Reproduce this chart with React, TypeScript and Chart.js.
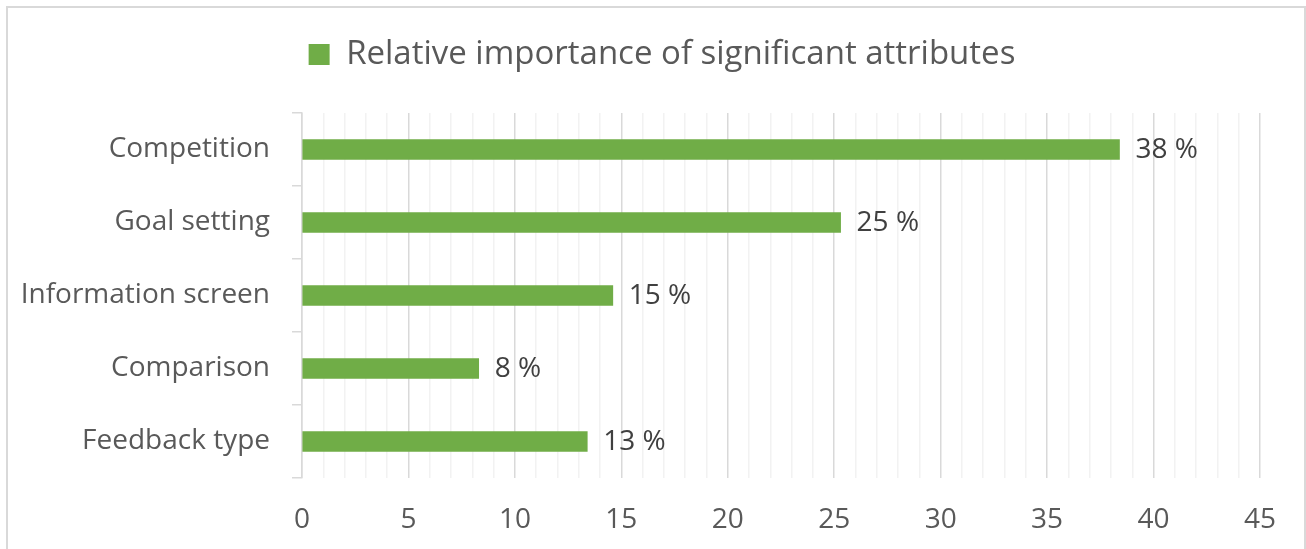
import React, { useEffect, useRef } from "react";
import { Chart, registerables } from "chart.js";

Chart.register(...registerables);

const categories = ["Competition", "Goal setting", "Information screen", "Comparison", "Feedback type"];
const values = [38.4, 25.3, 14.6, 8.3, 13.4];
const valueLabels = ["38 %", "25 %", "15 %", "8 %", "13 %"];
const seriesName = "Relative importance of significant attributes";
const xMin = 0;
const xMax = 45;

const FONT = "'Open Sans', sans-serif";
const TEXT = "#595959";
const GREEN = "#70AD47";

const dataLabelPlugin = {
  id: "dataLabels",
  afterDatasetsDraw(chart: any) {
    const ctx = chart.ctx;
    const meta = chart.getDatasetMeta(0);
    ctx.save();
    ctx.font = `28px ${FONT}`;
    ctx.fillStyle = "#404040";
    ctx.textAlign = "left";
    ctx.textBaseline = "middle";
    meta.data.forEach((bar: any, i: number) => {
      ctx.fillText(valueLabels[i], bar.x + 16, bar.y + 1);
    });
    ctx.restore();
  },
};

const legendSpacePlugin = {
  id: "legendSpace",
  beforeInit(chart: any) {
    const legend = chart.legend;
    if (!legend) return;
    const orig = legend.fit;
    legend.fit = function () {
      orig.bind(legend)();
      this.height += 32;
    };
  },
  beforeDraw(chart: any) {
    const legend = chart.legend;
    if (!legend || legend._shifted === chart.chartArea.right) return;
    legend.left += 32;
    legend.right += 32;
    legend._shifted = chart.chartArea.right;
  },
  afterLayout(chart: any) {
    if (chart.legend) chart.legend._shifted = undefined;
  },
};

export default function App() {
  const ref = useRef<HTMLCanvasElement>(null);

  useEffect(() => {
    if (!ref.current) return;
    const chart = new Chart(ref.current, {
      type: "bar",
      data: {
        labels: categories,
        datasets: [
          {
            label: seriesName,
            data: values,
            backgroundColor: GREEN,
            borderWidth: 0,
            barThickness: 20,
          },
        ],
      },
      options: {
        indexAxis: "y",
        responsive: false,
        animation: false,
        devicePixelRatio: 1,
        layout: { padding: { top: 28, left: 0, right: 46, bottom: 0 } },
        plugins: {
          tooltip: { enabled: false },
          legend: {
            display: true,
            position: "top",
            labels: {
              boxWidth: 21,
              boxHeight: 21,
              color: TEXT,
              font: { family: FONT, size: 33 },
              padding: 10,
            },
          },
        },
        scales: {
          x: {
            min: xMin,
            max: xMax,
            afterFit(scale: any) {
              scale.height = 71;
            },
            ticks: {
              stepSize: 1,
              autoSkip: false,
              maxRotation: 0,
              color: TEXT,
              font: { family: FONT, size: 28 },
              padding: 25,
              callback: (v: any) => (Number(v) % 5 === 0 ? String(v) : ""),
            },
            grid: {
              drawTicks: false,
              color: (c: any) => (c.tick && c.tick.value % 5 === 0 ? "#D9D9D9" : "#F2F2F2"),
              lineWidth: 1.5,
            },
            border: { display: false },
          },
          y: {
            afterFit(scale: any) {
              scale.width = 302;
            },
            ticks: {
              color: TEXT,
              font: { family: FONT, size: 28 },
              padding: 22,
            },
            grid: {
              display: true,
              drawOnChartArea: false,
              drawTicks: true,
              tickLength: 10,
              color: "#D9D9D9",
              lineWidth: 1.5,
              offset: true,
            },
            border: { display: true, color: "#D9D9D9", width: 1.5 },
          },
        },
      },
      plugins: [dataLabelPlugin, legendSpacePlugin],
    });
    return () => chart.destroy();
  }, []);

  return (
    <div
      style={{
        position: "fixed",
        left: 0,
        top: 0,
        width: 1306,
        height: 549,
        overflow: "hidden",
        background: "#fff",
      }}
    >
      <div
        style={{
          position: "absolute",
          left: 6,
          top: 6,
          width: 1300,
          height: 600,
          boxSizing: "border-box",
          border: "2px solid #D9D9D9",
        }}
      />
      <canvas
        ref={ref}
        width={1306}
        height={549}
        style={{ position: "absolute", left: 0, top: 0, width: 1306, height: 549 }}
      />
    </div>
  );
}
